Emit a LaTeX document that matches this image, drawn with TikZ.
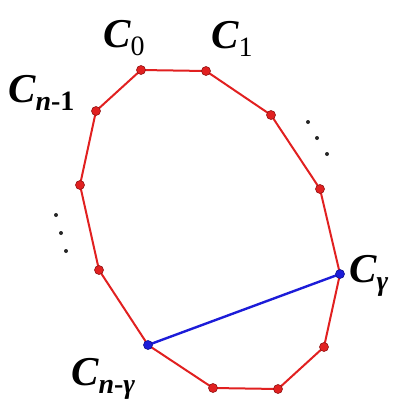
\documentclass[tikz,border=0pt]{standalone}
\usepackage{fontspec}
\setmainfont{Liberation Serif}
\usetikzlibrary{positioning,backgrounds}
\definecolor{polyred}{HTML}{E12020}
\definecolor{chordblue}{HTML}{1C1CD8}
\tikzset{
  vtx/.style={circle, fill=polyred, draw=polyred!65!black, line width=0.6pt, inner sep=0pt, minimum size=9pt},
  bvtx/.style={vtx, fill=chordblue, draw=chordblue!65!black},
  side/.style={polyred, line width=2pt},
  chord/.style={chordblue, line width=2.4pt},
  lbl/.style={font=\fontsize{41}{41}\selectfont\bfseries\itshape, inner sep=0pt, anchor=base west},
  gap/.style={circle, fill=black!85, inner sep=0pt, minimum size=4pt}
}
% subscript of a vertex name
\newcommand{\vsub}[1]{\raisebox{-8pt}{\fontsize{28}{28}\selectfont #1}}

\begin{document}
\begin{tikzpicture}[x=1pt,y=-1pt]
\useasboundingbox (0,0) rectangle (397,400);
% polygon vertices
\node[vtx] (c0) at (141,70) {};
\node[vtx] (c1) at (206,71) {};
\node[vtx] (c2) at (271,115) {};
\node[vtx] (c3) at (320,189) {};
\node[bvtx] (cg) at (340,274) {};
\node[vtx] (c5) at (324,347) {};
\node[vtx] (c6) at (278,389) {};
\node[vtx] (c7) at (213,388) {};
\node[bvtx] (cng) at (148,345) {};
\node[vtx] (c9) at (99,270) {};
\node[vtx] (c10) at (80,185) {};
\node[vtx] (cn1) at (96,111) {};
% sides and chord, behind the vertices
\begin{pgfonlayer}{background}
\foreach \a/\b in {c0/c1,c1/c2,c2/c3,c3/cg,cg/c5,c5/c6,c6/c7,c7/cng,cng/c9,c9/c10,c10/cn1,cn1/c0}
  \draw[side] (\a.center) -- (\b.center);
\draw[chord] (cg.center) -- (cng.center);
\end{pgfonlayer}
% labels
\node[lbl] (l0) at (103,47) {C\vsub{\upshape\mdseries 0}};
\node[lbl] (l1) at (211,48) {C\vsub{\upshape\mdseries 1}};
\node[lbl] (ln1) at (8,102) {C\vsub{n\upshape-1}};
\node[lbl] (lg) at (349,282) {C\vsub{γ}};
\node[lbl] (lng) at (71,385) {C\vsub{n\upshape-\itshape γ}};
% omitted vertices
\node[gap] (d1) at (308,122) {};
\node[gap] (d2) at (317,138) {};
\node[gap] (d3) at (327,154) {};
\node[gap] (d4) at (56,215) {};
\node[gap] (d5) at (61,233) {};
\node[gap] (d6) at (66,251) {};
\end{tikzpicture}
\end{document}
